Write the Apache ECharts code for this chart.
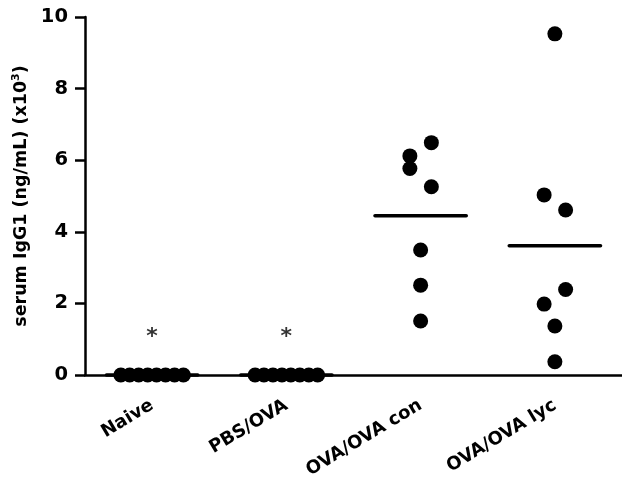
<!DOCTYPE html>
<html><head><meta charset="utf-8">
<script src="https://cdn.jsdelivr.net/npm/echarts@6/dist/echarts.min.js"></script>
<style>html,body{margin:0;padding:0;background:#fff}#c{width:622px;height:484px}</style>
</head><body><div id="c"></div>
<script>
var categories = ['Naive', 'PBS/OVA', 'OVA/OVA con', 'OVA/OVA lyc'];
var yTicks = [0, 2, 4, 6, 8, 10];
var naiveValues = [0, 0, 0, 0, 0, 0, 0, 0];
var naiveJitter = [-0.233, -0.167, -0.1, -0.033, 0.033, 0.1, 0.167, 0.233];
var pbsValues = [0, 0, 0, 0, 0, 0, 0, 0];
var pbsJitter = [-0.233, -0.167, -0.1, -0.033, 0.033, 0.1, 0.167, 0.233];
var conValues = [6.49, 6.12, 5.77, 5.26, 3.49, 2.51, 1.51];
var conJitter = [0.08, -0.08, -0.08, 0.08, 0, 0, 0];
var lycValues = [9.53, 5.03, 4.61, 2.39, 1.98, 1.37, 0.37];
var lycJitter = [0, -0.08, 0.08, 0.08, -0.08, 0, 0];
var starCategories = [0, 1];
var starValue = 1.05;
var meanWidth = 0.68;

var groups = [[naiveValues, naiveJitter], [pbsValues, pbsJitter], [conValues, conJitter], [lycValues, lycJitter]];
var points = [];
var means = [];
groups.forEach(function (g, i) {
  var s = 0;
  g[0].forEach(function (v, j) { points.push([i + g[1][j], v]); s += v; });
  means.push([i, s / g[0].length]);
});
var stars = starCategories.map(function (i) { return [i, starValue]; });

var FONT = 'DejaVu Sans';
var chart = echarts.init(document.getElementById('c'));
chart.setOption({
  animation: false,
  backgroundColor: '#fff',
  grid: { left: 85, top: 17, bottom: 109, right: -3, containLabel: false },
  xAxis: [{
    type: 'category', data: categories, boundaryGap: true,
    axisLine: { lineStyle: { color: '#000', width: 2.5 } },
    axisTick: { alignWithLabel: true, length: 10, lineStyle: { color: '#000', width: 2.5 } },
    axisLabel: { rotate: 31, margin: 29, color: '#000', fontFamily: FONT, fontWeight: 'bold', fontSize: 18, interval: 0 },
    splitLine: { show: false }
  }, {
    type: 'value', min: -0.5, max: 3.5, show: false
  }],
  yAxis: {
    type: 'value', min: 0, max: 10, interval: 2,
    name: 'serum IgG1 (ng/mL) (x10{sup|3})', nameLocation: 'middle', nameGap: 54, nameRotate: 90,
    nameTextStyle: { color: '#000', fontFamily: FONT, fontWeight: 'bold', fontSize: 17.5,
      rich: { sup: { fontFamily: FONT, fontWeight: 'bold', fontSize: 11, padding: [0, 0, 9, 0], color: '#000' } } },
    axisLine: { show: true, onZero: false, lineStyle: { color: '#000', width: 2.5 } },
    axisTick: { show: true, length: 10, lineStyle: { color: '#000', width: 2.5 } },
    axisLabel: { margin: 17, color: '#000', fontFamily: FONT, fontWeight: 'bold', fontSize: 19.5,
      formatter: function (v) { return yTicks.indexOf(v) >= 0 ? String(v) : ''; } },
    splitLine: { show: false }
  },
  series: [{
    type: 'custom', xAxisIndex: 1, data: means, z: 3,
    renderItem: function (params, api) {
      var c = api.coord([api.value(0), api.value(1)]);
      var w = api.size([meanWidth, 0])[0];
      return { type: 'line', shape: { x1: c[0] - w / 2, y1: c[1], x2: c[0] + w / 2, y2: c[1] },
        style: { stroke: '#000', lineWidth: 3.5, lineCap: 'round' } };
    }
  }, {
    type: 'scatter', xAxisIndex: 1, data: points, symbol: 'circle', symbolSize: 15, z: 4,
    itemStyle: { color: '#000', opacity: 1 }, clip: false
  }, {
    type: 'scatter', xAxisIndex: 1, data: stars, symbolSize: 0, z: 5,
    label: { show: true, position: 'inside', formatter: '*', color: '#000', fontFamily: FONT, fontWeight: 'bold', fontSize: 22 }
  }]
});
</script></body></html>
